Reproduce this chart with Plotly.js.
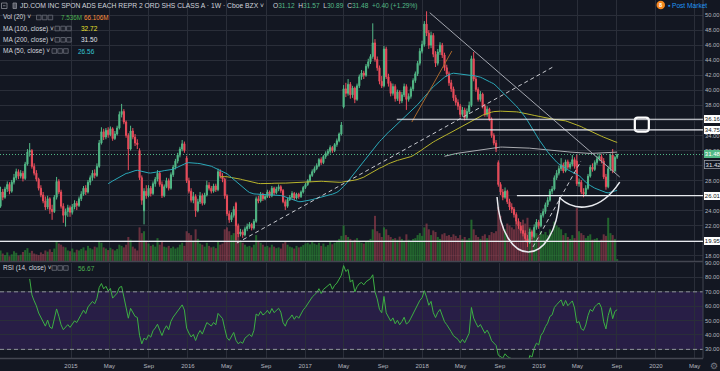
<!DOCTYPE html>
<html><head><meta charset="utf-8">
<script src="https://cdn.plot.ly/plotly-3.0.1.min.js"></script>
<style>html,body{margin:0;padding:0;background:#131722;overflow:hidden}#chart{width:720px;height:371px}</style>
</head><body><div id="chart"></div>
<script>
// ---- weekly data (first bar = week of 2014-05-19) ----
const firstWeek = '2014-05-19';
const open = [21.75,
24.6,26.5,25.8,26.9,27.5,26.6,27.8,28.4,29.2,28.6,
29.0,28.3,30.2,31.8,32.0,29.9,29.0,28.2,27.0,26.1,
25.3,24.5,25.6,24.2,23.9,25.8,27.9,26.5,24.6,23.4,
23.9,24.4,23.8,24.5,25.0,24.7,25.6,26.2,27.0,26.5,
27.8,28.4,29.0,28.7,29.9,33.0,34.5,33.8,34.7,34.1,
34.9,33.6,34.2,35.0,36.8,37.2,35.8,34.0,32.2,34.6,
33.8,33.0,32.0,28.4,24.0,26.6,26.0,27.0,26.3,27.6,
28.2,29.0,27.5,26.0,27.2,28.0,27.0,28.8,29.8,30.6,
31.4,32.2,32.9,31.0,28.0,26.6,25.4,25.9,24.0,25.2,
26.0,25.0,26.1,27.4,27.0,26.6,27.3,26.8,29.2,28.6,
28.2,26.0,23.6,22.8,23.4,25.0,22.0,20.9,21.2,20.8,
21.6,21.9,22.2,21.7,22.6,25.6,25.3,26.2,25.6,25.9,
26.5,26.0,27.0,26.4,26.9,27.2,26.7,25.2,24.6,25.5,
25.8,26.3,25.7,26.2,25.9,26.5,27.1,27.5,28.0,28.7,
29.2,29.6,30.0,30.8,30.4,31.2,31.6,31.9,32.4,32.0,
32.8,33.3,34.2,37.8,40.2,39.6,40.8,39.4,40.3,38.8,
40.6,41.8,42.3,42.0,43.2,43.8,44.5,46.3,44.1,43.0,
41.2,40.6,45.5,41.8,40.9,39.6,40.5,38.9,39.8,38.6,
39.4,40.5,38.8,39.2,40.2,41.3,42.2,43.6,45.2,46.1,
48.8,47.6,46.0,47.3,44.8,43.6,45.1,46.0,44.7,43.0,
42.2,41.0,40.2,39.0,38.4,37.9,36.8,37.4,36.4,37.2,
38.0,44.2,41.5,40.1,38.8,39.5,37.9,36.8,37.5,36.2,
34.0,33.0,30.4,27.5,26.5,25.8,26.6,25.2,24.5,24.2,
23.5,22.6,22.0,21.4,21.0,20.3,19.8,21.2,20.6,21.8,
22.5,22.0,23.4,23.9,24.8,25.4,26.6,26.9,28.4,29.0,
29.6,30.1,29.3,30.5,29.8,30.2,30.8,30.6,27.6,27.8,
26.5,26.2,27.0,28.6,29.8,29.5,30.4,30.9,31.2,30.6,
28.5,27.2,29.6,31.4,29.3,31.12];
const high = [24.4,
27.2,26.9,27.2,27.9,27.8,28.1,28.9,29.6,29.5,29.4,
29.3,30.5,32.2,33.0,32.2,30.3,29.4,28.4,27.4,26.5,
25.9,26.0,25.8,24.8,26.1,28.5,28.2,26.8,25.0,24.3,
24.8,24.7,24.9,25.4,25.3,25.9,26.6,27.3,27.4,28.1,
28.7,29.4,29.5,30.3,33.4,35.1,34.9,35.0,35.1,35.2,
35.1,34.6,35.3,37.2,38.2,37.5,36.0,34.3,35.3,35.0,
34.2,33.5,32.3,28.7,27.0,27.4,27.4,27.3,27.9,28.5,
29.4,29.3,27.9,27.5,28.4,28.3,29.1,30.1,30.9,31.7,
32.5,33.4,33.2,31.3,28.4,27.0,26.5,26.2,25.6,26.5,
26.3,26.4,28.0,27.8,27.3,27.6,27.6,29.6,29.5,29.0,
28.4,26.2,24.0,23.8,24.6,25.2,22.3,21.6,21.5,21.9,
22.3,22.5,22.4,22.9,25.9,26.0,26.5,26.4,26.2,26.8,
26.7,27.3,27.2,27.2,27.5,27.4,26.9,25.5,25.7,26.1,
26.6,26.5,26.4,26.4,26.7,27.3,27.7,28.2,28.9,29.5,
29.9,30.3,31.0,31.1,31.4,31.9,32.2,32.7,32.6,33.0,
33.6,34.4,35.8,40.7,41.0,41.5,41.1,40.6,40.5,40.9,
42.1,42.7,42.6,43.5,44.2,44.8,48.9,46.8,44.5,43.3,
41.9,45.9,45.8,42.2,41.2,40.9,40.8,40.1,40.0,39.8,
40.9,40.8,39.6,40.5,41.6,42.5,43.9,45.6,46.6,49.2,
50.5,48.0,47.8,47.6,45.2,45.5,46.4,46.3,45.0,43.4,
42.5,41.4,40.5,39.4,38.8,38.2,37.8,37.7,37.6,38.5,
44.6,45.1,41.8,40.4,39.9,39.7,38.2,37.9,37.7,36.4,
34.3,33.4,30.7,27.8,26.9,27.1,26.8,25.6,25.0,24.5,
23.8,23.0,22.5,22.1,21.4,20.8,21.6,21.5,22.2,22.9,
22.8,23.7,24.3,25.1,25.8,26.9,27.3,28.7,29.4,30.0,
31.0,30.4,30.8,30.8,30.5,31.4,31.1,31.5,28.3,28.1,
27.0,27.4,28.9,30.1,30.3,30.7,31.3,31.6,31.5,31.0,
28.9,29.9,31.6,32.2,31.3,31.57];
const low = [20.3,
24.4,25.4,25.6,26.5,26.2,26.4,27.5,28.1,28.2,28.3,
27.9,28.1,30.0,31.2,29.6,28.7,27.9,26.7,25.8,25.0,
24.1,24.2,23.6,22.8,23.7,25.5,26.2,24.3,22.4,21.9,
23.2,23.2,23.5,24.2,24.1,24.5,25.3,26.0,26.1,26.3,
27.4,28.0,28.3,28.5,29.7,32.8,33.4,33.5,33.7,33.9,
33.3,33.4,34.0,34.8,36.4,35.5,33.7,29.4,32.0,33.5,
32.6,32.2,28.1,24.8,22.2,25.6,25.8,25.9,26.1,27.2,
27.9,27.2,25.7,25.8,27.0,26.7,26.8,28.5,29.5,30.3,
31.1,31.9,31.7,27.7,26.3,25.1,25.0,23.2,23.8,24.9,
24.7,24.8,25.9,26.7,26.3,26.4,26.5,26.6,28.3,27.8,
25.6,23.3,22.4,22.5,23.1,20.1,20.5,20.6,20.4,20.6,
21.3,21.6,21.4,21.5,22.4,25.0,25.1,25.3,25.4,25.7,
25.7,25.8,26.1,26.2,26.6,26.4,25.0,24.1,24.4,25.3,
25.6,25.4,25.5,25.6,25.7,26.3,26.9,27.3,27.8,28.5,
29.0,29.4,29.8,30.1,30.2,30.9,31.3,31.6,31.7,31.8,
32.5,33.1,34.0,37.6,39.1,39.3,38.9,39.0,38.3,38.6,
40.3,41.4,41.5,41.8,42.9,43.5,44.2,43.8,42.6,40.8,
40.3,40.4,41.5,40.5,39.2,39.3,38.5,38.6,38.2,38.3,
39.1,37.4,38.5,38.9,39.9,41.0,41.9,43.3,44.9,45.8,
47.2,45.5,45.6,44.4,43.1,43.3,44.7,44.3,42.6,41.8,
40.6,39.8,38.6,38.0,37.4,36.4,36.5,36.0,36.1,36.9,
37.8,41.2,39.8,38.5,38.5,37.6,36.5,36.5,35.9,33.7,
32.7,31.8,27.2,26.1,25.4,25.6,24.9,24.1,23.7,23.1,
22.2,21.6,21.0,20.6,19.9,19.2,19.6,20.2,20.4,21.5,
21.6,21.8,23.1,23.6,24.5,25.2,26.2,26.7,28.1,28.7,
29.3,29.0,29.1,29.5,29.5,29.9,29.6,27.3,27.2,26.2,
25.8,26.0,26.8,28.4,29.2,29.3,30.1,30.6,30.3,28.2,
26.8,27.0,29.3,29.0,29.1,30.89];
const close = [24.0,
26.5,25.8,26.9,27.5,26.6,27.8,28.4,29.2,28.6,29.0,
28.3,30.2,31.8,32.0,29.9,29.0,28.2,27.0,26.1,25.3,
24.5,25.6,24.2,23.9,25.8,27.9,26.5,24.6,23.4,23.9,
24.4,23.8,24.5,25.0,24.7,25.6,26.2,27.0,26.5,27.8,
28.4,29.0,28.7,29.9,33.0,34.5,33.8,34.7,34.1,34.9,
33.6,34.2,35.0,36.8,37.2,35.8,34.0,32.2,34.6,33.8,
33.0,32.8,28.4,25.4,26.6,26.0,27.0,26.3,27.6,28.2,
29.0,27.5,26.0,27.2,28.0,27.0,28.8,29.8,30.6,31.4,
32.2,32.9,32.0,28.0,26.6,25.4,25.9,24.0,25.2,26.0,
25.0,26.1,27.4,27.0,26.6,27.3,26.8,29.2,28.6,28.2,
26.0,23.6,22.8,23.4,24.2,22.0,20.9,21.2,20.8,21.6,
21.9,22.2,21.7,22.6,25.6,25.3,26.2,25.6,25.9,26.5,
26.0,27.0,26.4,26.9,27.2,26.7,25.2,24.6,25.5,25.8,
26.3,25.7,26.2,25.9,26.5,27.1,27.5,28.0,28.7,29.2,
29.6,30.0,30.8,30.4,31.2,31.6,31.9,32.4,32.0,32.8,
33.3,34.2,35.4,40.2,39.6,40.8,39.4,40.3,38.8,40.6,
41.8,42.3,42.0,43.2,43.8,44.5,46.3,44.1,43.0,41.2,
40.6,45.5,41.8,40.9,39.6,40.5,38.9,39.8,38.6,39.4,
40.5,38.8,39.2,40.2,41.3,42.2,43.6,45.2,46.1,48.8,
47.6,46.0,47.3,44.8,43.6,45.1,46.0,44.7,43.0,42.2,
41.0,40.2,39.0,38.4,37.9,36.8,37.4,36.4,37.2,38.0,
44.2,41.5,40.1,38.8,39.5,37.9,36.8,37.5,36.2,34.0,
33.0,32.2,27.5,26.5,25.8,26.6,25.2,24.5,24.2,23.5,
22.6,22.0,21.4,21.0,20.3,19.8,21.2,20.6,21.8,22.5,
22.0,23.4,23.9,24.8,25.4,26.6,26.9,28.4,29.0,29.6,
30.1,29.3,30.5,29.8,30.2,30.8,29.9,27.6,27.8,26.5,
26.2,27.0,28.6,29.8,29.5,30.4,30.9,31.2,30.6,28.5,
27.2,29.6,31.4,29.3,31.08,31.48];
const volumeM = [180,
30,22,18,25,15,20,28,24,17,19,
26,31,36,24,29,22,20,18,25,21,
30,27,33,26,35,52,48,45,40,38,
30,28,35,25,32,30,34,38,30,42,
36,33,40,38,55,50,38,35,31,37,
33,30,34,45,42,38,45,65,58,40,
35,30,90,75,80,55,48,42,45,40,
62,45,55,40,38,42,36,40,35,38,
45,50,42,80,75,70,55,85,60,48,
45,40,50,42,38,40,36,55,45,48,
85,90,80,70,75,95,70,55,50,45,
40,42,38,45,70,55,50,45,40,42,
38,45,40,36,38,35,48,52,45,40,
38,35,42,38,40,44,48,50,46,52,
48,45,50,42,48,40,44,52,46,50,
55,60,68,95,70,65,60,55,58,62,
55,50,48,52,56,60,85,120,80,75,
65,90,85,70,65,60,62,58,66,60,
55,72,58,55,60,62,70,75,68,90,
100,85,70,82,78,65,60,72,75,68,
70,65,72,68,62,70,60,65,58,62,
110,85,70,65,60,68,72,62,70,78,
75,80,143,120,95,85,100,95,90,85,
105,95,90,110,100,115,90,80,85,75,
70,80,72,78,70,85,75,105,95,90,
85,70,75,65,60,70,62,140,80,75,
70,62,68,72,58,60,62,55,58,72,
68,115,75,70,60,7.536];

const timeTickDates = ['2015-01-01','2015-05-01','2015-09-01','2016-01-01','2016-05-01','2016-09-01',
 '2017-01-01','2017-05-01','2017-09-01','2018-01-01','2018-05-01','2018-09-01',
 '2019-01-01','2019-05-01','2019-09-01','2020-01-01','2020-05-01'];
const timeTickLabels = ['2015','May','Sep','2016','May','Sep','2017','May','Sep','2018','May','Sep','2019','May','Sep','2020','May'];

// horizontal levels drawn by the user (price, start date)
const levelPrices = [36.16, 34.75, 26.01, 19.95];
const levelStarts = ['2017-10-14', '2018-05-21', '2018-10-24', '2014-05-24'];
const lastPrice = 31.48;

// ---- derived ----
const N = close.length;
const dates = [];
const t0 = Date.parse(firstWeek + 'T00:00:00Z');
for (let i = 0; i < N; i++) dates.push(new Date(t0 + i * 7 * 864e5).toISOString().slice(0, 10));

function sma(a, n) {
  return a.map((_, i) => { if (i < n - 1) return null; let s = 0; for (let k = i - n + 1; k <= i; k++) s += a[k]; return s / n; });
}
function rsi(c, n) {
  const out = c.map(() => null); let g = 0, l = 0;
  for (let i = 1; i <= n; i++) { const d = c[i] - c[i - 1]; if (d > 0) g += d; else l -= d; }
  g /= n; l /= n; out[n] = l === 0 ? 100 : 100 - 100 / (1 + g / l);
  for (let i = n + 1; i < c.length; i++) {
    const d = c[i] - c[i - 1];
    g = (g * (n - 1) + Math.max(d, 0)) / n; l = (l * (n - 1) + Math.max(-d, 0)) / n;
    out[i] = l === 0 ? 100 : 100 - 100 / (1 + g / l);
  }
  return out;
}
const ma50 = sma(close, 50), ma100 = sma(close, 100), ma200 = sma(close, 200);
const rsi14 = rsi(close, 14);

const UP = '#53b987', DN = '#eb4d5c';
const volColors = close.map((c, i) => c >= open[i] ? 'rgba(40,130,50,0.72)' : 'rgba(150,62,78,0.66)');

const W = 720, H = 371, MR = 17, MB = 13;
const PW = W - MR, PH = H - MB;
const FONT = 'Liberation Sans, Arial, sans-serif';
const GRID = '#2a2e39';
const XR = ['2014-05-24 08:24', '2020-05-26 23:00'];

const traces = [
  {type: 'bar', x: dates, y: volumeM, xaxis: 'x', yaxis: 'y', marker: {color: volColors, line: {width: 0}}, hoverinfo: 'skip'},
  {type: 'candlestick', x: dates, open: open, high: high, low: low, close: close, xaxis: 'x', yaxis: 'y3',
   increasing: {line: {color: UP, width: 1}, fillcolor: UP}, decreasing: {line: {color: DN, width: 1}, fillcolor: DN},
   whiskerwidth: 0, hoverinfo: 'skip'},
  {type: 'scatter', mode: 'lines', x: dates, y: ma200, xaxis: 'x', yaxis: 'y3', line: {color: '#a9abb0', width: 1}, hoverinfo: 'skip'},
  {type: 'scatter', mode: 'lines', x: dates, y: ma100, xaxis: 'x', yaxis: 'y3', line: {color: '#b8b42c', width: 1}, hoverinfo: 'skip'},
  {type: 'scatter', mode: 'lines', x: dates, y: ma50, xaxis: 'x', yaxis: 'y3', line: {color: '#2aa8b8', width: 1}, hoverinfo: 'skip'},
  {type: 'scatter', mode: 'lines', x: dates, y: rsi14, xaxis: 'x', yaxis: 'y2', line: {color: '#3cb043', width: 1}, hoverinfo: 'skip'}
];

const WHITE = '#e8eaef';
const shapes = [
  {type: 'rect', xref: 'paper', yref: 'y2', x0: 0, x1: 1, y0: 30, y1: 70, fillcolor: 'rgba(120,60,200,0.22)', line: {width: 0}, layer: 'below'},
  {type: 'line', xref: 'paper', yref: 'y2', x0: 0, x1: 1, y0: 70, y1: 70, line: {color: '#8f929b', width: 1, dash: '4px,3px'}},
  {type: 'line', xref: 'paper', yref: 'y2', x0: 0, x1: 1, y0: 30, y1: 30, line: {color: '#8f929b', width: 1, dash: '4px,3px'}},
  {type: 'line', xref: 'paper', yref: 'paper', x0: 0, x1: 1, y0: 96.5 / PH, y1: 96.5 / PH, line: {color: '#434651', width: 1.5}},
  {type: 'line', xref: 'paper', yref: 'paper', x0: 0, x1: 1, y0: -0.5 / PH, y1: -0.5 / PH, line: {color: '#434651', width: 1.5}},
  {type: 'line', xref: 'paper', yref: 'paper', x0: 1, x1: 1, y0: -0.001, y1: 1, line: {color: '#434651', width: 1}},
  {type: 'line', xref: 'paper', yref: 'y3', x0: 0, x1: 1, y0: lastPrice, y1: lastPrice, line: {color: UP, width: 1, dash: '1px,2px'}},
  {type: 'line', xref: 'x', yref: 'y3', x0: '2018-01-25', y0: 50.31, x1: '2019-09-10', y1: 28.49, line: {color: '#a3a6af', width: 1}},
  {type: 'line', xref: 'x', yref: 'y3', x0: '2016-06-02', y0: 19.72, x1: '2019-02-13', y1: 43.09, line: {color: '#c8cad0', width: 1, dash: '4px,3px'}},
  {type: 'line', xref: 'x', yref: 'y3', x0: '2017-11-30', y0: 35.79, x1: '2018-04-04', y1: 45.22, line: {color: '#a8672c', width: 1}},
  {type: 'line', xref: 'x', yref: 'y3', x0: '2018-12-13', y0: 19.19, x1: '2019-05-12', y1: 30.61, line: {color: '#c8cad0', width: 1, dash: '4px,3px'}},
  {type: 'path', xref: 'x', yref: 'y3', path: 'M2018-08-23,25.83 C2018-09-07,16.1 2019-02-19,16.1 2019-03-07,25.83', line: {color: WHITE, width: 1.5}},
  {type: 'path', xref: 'x', yref: 'y3', path: 'M2019-03-07,25.70 C2019-04-23,23.84 2019-07-10,23.84 2019-09-10,27.82', line: {color: WHITE, width: 1.5}},
  {type: 'path', xref: 'x', yref: 'y3', xsizemode: 'pixel', ysizemode: 'pixel', xanchor: '2019-11-18', yanchor: 35.46,
   path: 'M-4,-7 L4,-7 Q7,-7 7,-4 L7,4 Q7,7 4,7 L-4,7 Q-7,7 -7,4 L-7,-4 Q-7,-7 -4,-7 Z', line: {color: '#ffffff', width: 2.2}}
];
levelPrices.forEach((p, i) => shapes.push({type: 'line', xref: 'x', yref: 'y3', x0: levelStarts[i], x1: XR[1], y0: p, y1: p, line: {color: WHITE, width: 1.2}}));

function iconBoxes(xs, yc) { xs.forEach(x => shapes.push({type: 'rect', xref: 'paper', yref: 'paper', x0: x / PW, x1: (x + 4.6) / PW, y0: (PH - yc - 2.3) / PH, y1: (PH - yc + 2.3) / PH, line: {color: '#6a6d78', width: 0.8}, fillcolor: '#1c202b'})); }
iconBoxes([36.5, 42.3, 48.1], 17.5);
iconBoxes([55, 60.8, 66.6], 28.5);
iconBoxes([55, 60.8, 66.6], 39.8);
iconBoxes([52, 57.8, 63.6], 51);
iconBoxes([52, 57.8, 63.6], 268);
shapes.push({type: 'rect', xref: 'paper', yref: 'paper', x0: 1.5 / PW, x1: 7 / PW, y0: (PH - 8.5) / PH, y1: (PH - 3) / PH, line: {color: '#8a8d96', width: 0.8}});
shapes.push({type: 'line', xref: 'paper', yref: 'paper', x0: 3 / PW, x1: 5.5 / PW, y0: (PH - 5.75) / PH, y1: (PH - 5.75) / PH, line: {color: '#8a8d96', width: 0.8}});
shapes.push({type: 'rect', xref: 'paper', yref: 'paper', x0: 13 / PW, x1: 16.5 / PW, y0: (PH - 8.5) / PH, y1: (PH - 3) / PH, line: {color: '#8a8d96', width: 0.8}, fillcolor: '#50535e'});
shapes.push({type: 'circle', xref: 'paper', yref: 'paper', x0: 656.5 / PW, x1: 665 / PW, y0: (PH - 9.3) / PH, y1: (PH - 0.8) / PH, fillcolor: '#f5881f', line: {width: 0}});

const TXT = '#d1d4dc';
function ann(x, y, text, o) {
  return Object.assign({xref: 'paper', yref: 'paper', x: x / PW, y: (PH - y) / PH, text: text, showarrow: false,
    xanchor: 'left', yanchor: 'middle', font: {size: 6.5, color: TXT, family: FONT}, borderpad: 0}, o || {});
}
const g = s => '<span style="color:' + UP + '">' + s + '</span>';
const annotations = [
  ann(19, 5.8, 'JD.COM INC SPON ADS EACH REPR 2 ORD SHS CLASS A · 1W · Cboe BZX ˅', {font: {size: 6.75, color: TXT, family: FONT}}),
  ann(272, 5.8, 'O' + g('31.12') + '  H' + g('31.57') + '  L' + g('30.89') + '  C' + g('31.48') + '  ' + g('+0.40 (+1.29%)'), {font: {size: 6.6, color: TXT, family: FONT}}),
  ann(2, 17.5, 'Vol (20) ˅'),
  ann(60, 17.5, '7.536M', {font: {size: 6.3, color: '#4caf50', family: FONT}}),
  ann(82.5, 17.5, '66.106M', {font: {size: 6.3, color: '#ff8f3a', family: FONT}}),
  ann(2, 28.5, 'MA (100, close) ˅'),
  ann(80, 28.5, '32.72', {font: {size: 6.5, color: '#e8e02a', family: FONT}}),
  ann(2, 39.8, 'MA (200, close) ˅'),
  ann(80, 39.8, '31.50', {font: {size: 6.5, color: '#e0e3eb', family: FONT}}),
  ann(2, 51, 'MA (50, close) ˅'),
  ann(77, 51, '26.56', {font: {size: 6.5, color: '#33c3d3', family: FONT}}),
  ann(2, 268, 'RSI (14, close) ˅'),
  ann(77, 268, '56.67', {font: {size: 6.5, color: '#4caf50', family: FONT}}),
  ann(666.5, 5, '●', {font: {size: 4.5, color: '#2196f3', family: FONT}}),
  ann(671, 5.3, 'Post Market', {font: {size: 6.6, color: '#2196f3', family: FONT}}),
  ann(660.75, 5.1, '<b>8</b>', {xanchor: 'center', font: {size: 5.5, color: '#ffffff', family: FONT}}),
  ann(708.5, 365.5, '⚙', {font: {size: 9, color: '#787b86', family: 'DejaVu Sans'}})
];
function priceTag(price, label, bg, fg, border) {
  return {xref: 'paper', yref: 'y3', x: 1, y: price, xanchor: 'left', yanchor: 'middle', showarrow: false, text: label,
    font: {size: 6, color: fg, family: FONT}, bgcolor: bg, bordercolor: border || bg, borderwidth: border ? 0.8 : 0, borderpad: 0.8, xshift: 0.5};
}
levelPrices.forEach(p => annotations.push(priceTag(p, p.toFixed(2), '#ffffff', '#131722')));
annotations.push(priceTag(30.2, '31.42', '#131722', '#e0e3eb', '#9598a1'));
annotations.push(priceTag(lastPrice, lastPrice.toFixed(2), UP, '#ffffff'));

const layout = {
  width: W, height: H, margin: {l: 0, r: MR, t: 0, b: MB, pad: 0},
  paper_bgcolor: '#131722', plot_bgcolor: '#131722', showlegend: false, hovermode: false,
  bargap: 0.1, font: {family: FONT, color: '#b2b5be'},
  xaxis: {type: 'date', range: XR, anchor: 'y2', tickvals: timeTickDates, ticktext: timeTickLabels, showgrid: true, gridcolor: GRID, gridwidth: 1,
    zeroline: false, ticks: '', showline: false, tickfont: {size: 6, color: '#b2b5be', family: FONT}, ticklabelstandoff: 3, rangeslider: {visible: false}, fixedrange: true},
  yaxis: {domain: [96 / PH, 1], range: [0, 262 * 2.6], visible: false, showgrid: false, fixedrange: true},
  yaxis3: {overlaying: 'y', side: 'right', anchor: 'x', range: [17.2, 52.0], dtick: 2, tick0: 0, tickformat: '.2f', showgrid: true, gridcolor: GRID,
    zeroline: false, ticks: '', showline: false, tickfont: {size: 5.8, color: '#b2b5be', family: FONT}, ticklabelstandoff: 1, fixedrange: true},
  yaxis2: {domain: [0, 95 / PH], range: [24.0, 90.05], dtick: 10, tick0: 0, tickformat: '.2f', side: 'right', anchor: 'x', showgrid: true, gridcolor: GRID,
    zeroline: false, ticks: '', showline: false, tickfont: {size: 5.8, color: '#b2b5be', family: FONT}, ticklabelstandoff: 1, fixedrange: true},
  shapes: shapes, annotations: annotations
};
Plotly.newPlot('chart', traces, layout, {staticPlot: true, displayModeBar: false});
</script>
</body></html>
